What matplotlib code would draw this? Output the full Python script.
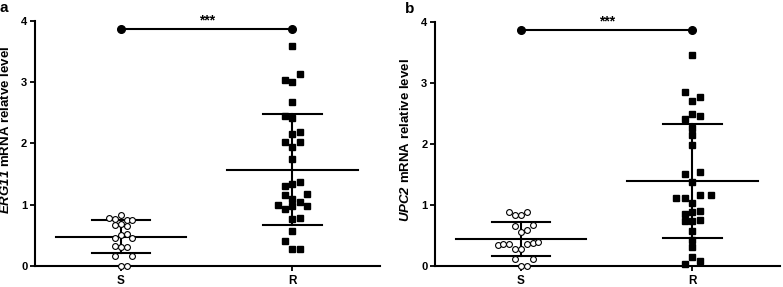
import numpy as np
import matplotlib
matplotlib.use("Agg")
import matplotlib.pyplot as plt

plt.rcParams["font.family"] = ["Liberation Sans", "DejaVu Sans"]
plt.rcParams["font.weight"] = "bold"
# gene names are bold italic, digits included
plt.rcParams["mathtext.fontset"] = "custom"
plt.rcParams["mathtext.it"] = "Liberation Sans:italic:bold"
plt.rcParams["mathtext.rm"] = "Liberation Sans:italic:bold"

groups = ["S", "R"]

# panel a: ERG11
erg11_s = [0.83, 0.78, 0.76, 0.75, 0.74, 0.66, 0.68, 0.65, 0.50, 0.52,
           0.45, 0.45, 0.32, 0.31, 0.30, 0.16, 0.16, 0.0, 0.0]
erg11_s_dx = [0, -2, -1, 1, 2, -1, 0, 1, 0, 1,
              -1, 2, -1, 0, 1, -1, 2, 0, 1]
erg11_r = [3.59, 3.03, 3.00, 3.14, 2.67, 2.44, 2.42, 2.16, 2.19, 2.02,
           2.02, 1.94, 1.75, 1.31, 1.34, 1.36, 1.16, 1.17, 1.09, 1.04,
           0.99, 0.93, 0.97, 0.98, 0.77, 0.78, 0.56, 0.40, 0.27, 0.28]
erg11_r_dx = [0, -1, 0, 1, 0, -1, 0, 0, 1, -1,
              1, 0, 0, -1, 0, 1, -1, 2, 0, 1,
              -2, -1, 0, 2, 0, 1, 0, -1, 0, 1]
erg11_mean = [0.47, 1.56]
erg11_sd_lo = [0.21, 0.67]
erg11_sd_hi = [0.75, 2.48]

# panel b: UPC2
upc2_s = [0.89, 0.83, 0.83, 0.88, 0.66, 0.67, 0.56, 0.59, 0.34, 0.36,
          0.36, 0.28, 0.28, 0.36, 0.38, 0.39, 0.11, 0.11, 0.0, 0.0]
upc2_s_dx = [-2, -1, 0, 1, -1, 2, 0, 1, -4, -3,
             -2, -1, 0, 1, 2, 3, -1, 2, 0, 1]
upc2_r = [3.46, 2.85, 2.77, 2.70, 2.41, 2.49, 2.46, 2.26, 2.15, 1.99,
          1.50, 1.54, 1.38, 1.12, 1.12, 1.16, 1.16, 1.03, 0.86, 0.89,
          0.90, 0.73, 0.74, 0.75, 0.57, 0.43, 0.31, 0.14, 0.08, 0.04]
upc2_r_dx = [0, -1, 1, 0, -1, 0, 1, 0, 0, 0,
             -1, 1, 0, -2.3, -1, 1, 2.5, 0, -1, 0,
             1, -1, 0, 1, 0, 0, 0, 0, 1, -1]
upc2_mean = [0.44, 1.39]
upc2_sd_lo = [0.17, 0.46]
upc2_sd_hi = [0.72, 2.33]

sig_y = 3.87
sig_text = "***"


def draw_panel(ax, s_vals, s_dx, r_vals, r_dx, mean, lo, hi, ylabel, letter,
               label_y, letter_x):
    x = np.arange(len(groups))
    # error bars: mean line, SD caps, vertical line
    for i in x:
        ax.plot([i, i], [lo[i], hi[i]], color="black", lw=1.5, zorder=2)
        ax.plot([i - 0.38, i + 0.38], [mean[i], mean[i]], color="black", lw=1.5, zorder=2)
        for v in (lo[i], hi[i]):
            ax.plot([i - 0.17, i + 0.17], [v, v], color="black", lw=1.5, zorder=2)
    ax.plot(x[0] + np.array(s_dx) * 0.034, s_vals, "o", ms=4.2, mfc="white",
            mec="black", mew=0.8, clip_on=False, zorder=3)
    ax.plot(x[1] + np.array(r_dx) * 0.042, r_vals, "s", ms=3.8, color="black",
            clip_on=False, zorder=3)
    # significance bar
    ax.plot(x, [sig_y, sig_y], "-o", color="black", lw=1.5, ms=5.5, clip_on=False, zorder=3)
    ax.text(x.mean(), sig_y + 0.02, sig_text, ha="center", va="bottom", fontsize=10,
            fontweight="bold")

    ax.set_xlim(-0.5, 1.51)
    ax.set_ylim(0, 4)
    ax.set_yticks([0, 1, 2, 3, 4])
    ax.set_xticks(x)
    ax.set_xticklabels(groups, fontsize=8.5, fontweight="bold")
    ax.tick_params(axis="y", labelsize=8, width=1.3, length=3.5, pad=2)
    ax.tick_params(axis="x", width=1.3, length=3.5, pad=3)
    for lbl in ax.get_yticklabels():
        lbl.set_fontweight("bold")
    for side in ("top", "right"):
        ax.spines[side].set_visible(False)
    for side in ("left", "bottom"):
        ax.spines[side].set_linewidth(1.5)
    ax.set_ylabel(ylabel, fontsize=9.5, fontweight="bold")
    ax.yaxis.set_label_coords(-0.067, label_y)
    ax.text(letter_x, 1.08, letter, transform=ax.transAxes, fontsize=11,
            fontweight="bold", ha="center", va="top")


fig = plt.figure(figsize=(7.83, 2.87), dpi=100)
ax_a = fig.add_axes([0.0447, 0.0742, 0.4406, 0.8528])
ax_b = fig.add_axes([0.5556, 0.0732, 0.4406, 0.8501])

draw_panel(ax_a, erg11_s, erg11_s_dx, erg11_r, erg11_r_dx,
           erg11_mean, erg11_sd_lo, erg11_sd_hi,
           r"$ERG11$ mRNA relatve level", "a", 0.555, -0.091)
draw_panel(ax_b, upc2_s, upc2_s_dx, upc2_r, upc2_r_dx,
           upc2_mean, upc2_sd_lo, upc2_sd_hi,
           r"$UPC2$ mRNA relative level", "b", 0.516, -0.075)

fig.savefig("out.png", dpi=100)
